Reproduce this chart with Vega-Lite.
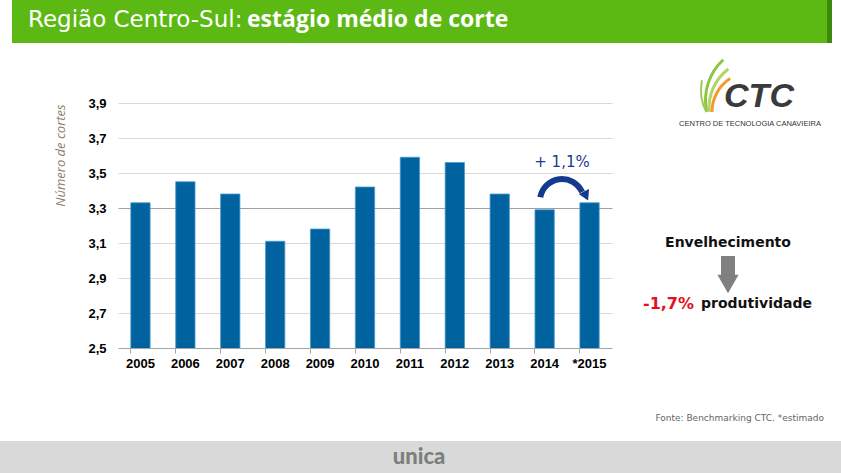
{
  "$schema": "https://vega.github.io/schema/vega-lite/v6.json",
  "width": 494,
  "height": 245,
  "autosize": "none",
  "padding": {"left": 118, "top": 103, "right": 229, "bottom": 125},
  "background": "white",
  "config": {"view": {"stroke": null}},
  "layer": [
    {
      "data": {"values": [{}]},
      "mark": {"type": "rect", "x": -106, "x2": 712, "y": -103, "y2": -60, "color": "#5cb914"},
      "encoding": {}
    },
    {
      "data": {"values": [{}]},
      "mark": {"type": "rect", "x": 709, "x2": 714, "y": -103, "y2": -60, "color": "#3e8a0c"},
      "encoding": {}
    },
    {
      "data": {"values": [{}]},
      "mark": {"type": "text", "text": "Região Centro-Sul:", "x": -90, "y": -83, "align": "left", "baseline": "middle", "font": "DejaVu Sans", "fontWeight": "normal", "fontSize": 23, "color": "white"},
      "encoding": {}
    },
    {
      "data": {"values": [{}]},
      "mark": {"type": "text", "text": "estágio médio de corte", "x": 129, "y": -83, "align": "left", "baseline": "middle", "font": "Open Sans", "fontWeight": "bold", "fontSize": 23, "color": "white"},
      "encoding": {}
    },
    {
      "data": {"values": [{}]},
      "mark": {"type": "rect", "x": -118, "x2": 723, "y": 338, "y2": 370, "color": "#d9d9d9"},
      "encoding": {}
    },
    {
      "data": {"values": [{}]},
      "mark": {"type": "text", "text": "unica", "x": 301, "y": 354, "align": "center", "baseline": "middle", "font": "Lato", "fontWeight": "900", "fontSize": 22, "color": "#7a817a"},
      "encoding": {}
    },
    {
      "data": {"values": [{}]},
      "mark": {"type": "text", "text": "Fonte: Benchmarking CTC. *estimado", "x": 706, "y": 315, "align": "right", "baseline": "middle", "font": "DejaVu Sans", "fontSize": 9, "color": "#666666"},
      "encoding": {}
    },
    {
      "data": {"values": [
        {"ano": "2005", "v": 3.33},
        {"ano": "2006", "v": 3.45},
        {"ano": "2007", "v": 3.38},
        {"ano": "2008", "v": 3.11},
        {"ano": "2009", "v": 3.18},
        {"ano": "2010", "v": 3.42},
        {"ano": "2011", "v": 3.59},
        {"ano": "2012", "v": 3.56},
        {"ano": "2013", "v": 3.38},
        {"ano": "2014", "v": 3.29},
        {"ano": "*2015", "v": 3.33}
      ]},
      "mark": {"type": "bar", "color": "#00629e", "stroke": "#4a9bd0", "strokeWidth": 0.8, "clip": true},
      "encoding": {
        "x": {
          "field": "ano", "type": "nominal", "sort": null,
          "scale": {"paddingInner": 0.57, "paddingOuter": 0.285},
          "axis": {
            "title": null, "labelAngle": 0, "bandPosition": 0,
            "labelFont": "Liberation Sans", "labelFontWeight": "bold", "labelFontSize": 13, "labelColor": "#000000",
            "labelPadding": 4, "domainColor": "#a6a6a6", "tickColor": "#a6a6a6", "tickSize": 5, "grid": false
          }
        },
        "y": {
          "field": "v", "type": "quantitative",
          "scale": {"domain": [2.5, 3.9], "zero": false, "nice": false},
          "axis": {
            "values": [2.5, 2.7, 2.9, 3.1, 3.3, 3.5, 3.7, 3.9],
            "labelExpr": "replace(format(datum.value, '.1f'), '.', ',')",
            "labelFont": "Liberation Sans", "labelFontWeight": "bold", "labelFontSize": 13, "labelColor": "#000000",
            "labelPadding": 12, "ticks": false, "domain": false,
            "gridColor": {"expr": "abs(datum.value - 3.3) < 0.01 ? '#a0a0a0' : '#d9d9d9'"},
            "title": "Número de cortes", "titleFont": "Open Sans", "titleFontStyle": "italic", "titleFontWeight": "normal",
            "titleFontSize": 13, "titleColor": "#8c8272", "titleX": -51, "titleY": 52, "titleAlign": "center", "titleAngle": -90
          }
        }
      }
    },
    {
      "data": {"values": [{}]},
      "mark": {"type": "arc", "x": 444, "y": 98, "innerRadius": 19, "outerRadius": 25, "theta": -1.4, "theta2": 1.15, "color": "#133a8e"},
      "encoding": {}
    },
    {
      "data": {"values": [{}]},
      "mark": {"type": "point", "shape": "triangle-down", "x": 468, "y": 93, "size": 130, "filled": true, "color": "#133a8e", "angle": -25, "opacity": 1},
      "encoding": {}
    },
    {
      "data": {"values": [{}]},
      "mark": {"type": "text", "text": "+ 1,1%", "x": 444, "y": 59, "align": "center", "baseline": "middle", "font": "DejaVu Sans", "fontWeight": "normal", "fontSize": 15, "color": "#1a3a8f"},
      "encoding": {}
    },
    {
      "data": {"values": [{}]},
      "mark": {"type": "text", "text": "Envelhecimento", "x": 610, "y": 140, "align": "center", "baseline": "middle", "font": "DejaVu Sans", "fontWeight": "bold", "fontSize": 14, "color": "#111111"},
      "encoding": {}
    },
    {
      "data": {"values": [{}]},
      "mark": {"type": "rect", "x": 603, "x2": 617, "y": 153, "y2": 175, "color": "#808080"},
      "encoding": {}
    },
    {
      "data": {"values": [{}]},
      "mark": {"type": "point", "shape": "triangle-down", "x": 610, "y": 181, "size": 450, "filled": true, "color": "#808080", "opacity": 1},
      "encoding": {}
    },
    {
      "data": {"values": [{}]},
      "mark": {"type": "text", "text": "-1,7%", "x": 525, "y": 201, "align": "left", "baseline": "middle", "font": "DejaVu Sans", "fontWeight": "bold", "fontSize": 16, "color": "#e3101a"},
      "encoding": {}
    },
    {
      "data": {"values": [{}]},
      "mark": {"type": "text", "text": "produtividade", "x": 583, "y": 201, "align": "left", "baseline": "middle", "font": "DejaVu Sans", "fontWeight": "bold", "fontSize": 14, "color": "#111111"},
      "encoding": {}
    },
    {
      "data": {"values": [{}]},
      "mark": {"type": "arc", "x": 642, "y": -3, "innerRadius": 53, "outerRadius": 56, "theta": -1.79, "theta2": -0.74, "color": "#8cc63f"},
      "encoding": {}
    },
    {
      "data": {"values": [{}]},
      "mark": {"type": "arc", "x": 640, "y": 5, "innerRadius": 47.5, "outerRadius": 50.5, "theta": -1.65, "theta2": -0.65, "color": "#b2d46a"},
      "encoding": {}
    },
    {
      "data": {"values": [{}]},
      "mark": {"type": "arc", "x": 634, "y": 9, "innerRadius": 38.5, "outerRadius": 41.5, "theta": -1.57, "theta2": -0.58, "color": "#f39a2b"},
      "encoding": {}
    },
    {
      "data": {"values": [{}]},
      "mark": {"type": "arc", "x": 632, "y": -13, "innerRadius": 48, "outerRadius": 50, "theta": -2.04, "theta2": -1.37, "color": "#9ccc55"},
      "encoding": {}
    },
    {
      "data": {"values": [{}]},
      "mark": {"type": "text", "text": "CTC", "x": 641, "y": -6, "align": "center", "baseline": "middle", "font": "Liberation Sans", "fontWeight": "bold", "fontStyle": "italic", "fontSize": 34, "color": "#3a3a3a"},
      "encoding": {}
    },
    {
      "data": {"values": [{}]},
      "mark": {"type": "text", "text": "CENTRO DE TECNOLOGIA CANAVIEIRA", "x": 632, "y": 21, "align": "center", "baseline": "middle", "font": "Liberation Sans", "fontSize": 7.5, "color": "#333333"},
      "encoding": {}
    }
  ]
}
